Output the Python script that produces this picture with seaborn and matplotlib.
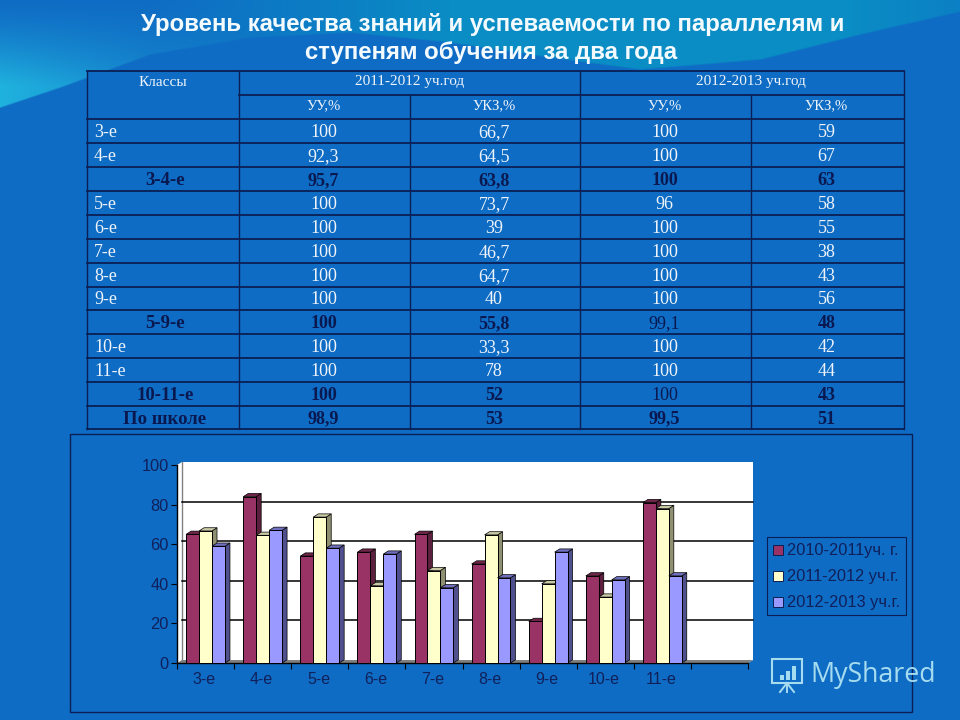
import numpy as np
import pandas as pd
import matplotlib
matplotlib.use("Agg")
import matplotlib.pyplot as plt
from matplotlib.patches import Polygon, Rectangle
import seaborn as sns

# table data
row_names = ['3-е', '4-е', '3-4-е', '5-е', '6-е', '7-е', '8-е', '9-е', '5-9-е', '10-е', '11-е', '10-11-е', 'По школе']
uu_2011 = ['100', '92,3', '95,7', '100', '100', '100', '100', '100', '100', '100', '100', '100', '98,9']
ukz_2011 = ['66,7', '64,5', '63,8', '73,7', '39', '46,7', '64,7', '40', '55,8', '33,3', '78', '52', '53']
uu_2012 = ['100', '100', '100', '96', '100', '100', '100', '100', '99,1', '100', '100', '100', '99,5']
ukz_2012 = ['59', '67', '63', '58', '55', '38', '43', '56', '48', '42', '44', '43', '51']
total_rows = ['3-4-е', '5-9-е', '10-11-е', 'По школе']

# chart data
classes = ['3-е', '4-е', '5-е', '6-е', '7-е', '8-е', '9-е', '10-е', '11-е', ' ']
y_2010 = [65, 84, 54, 56, 65, 50, 21, 44, 81, 0]
y_2011 = [66.7, 64.5, 73.7, 39, 46.7, 64.7, 40, 33.3, 78, 0]
y_2012 = [59, 67, 58, 55, 38, 43, 56, 42, 44, 0]
series_names = ['2010-2011уч. г.', '2011-2012 уч.г.', '2012-2013 уч.г.']
bar_colors = ['#993366', '#ffffcc', '#9999ff']
side_colors = ['#5c1f3d', '#8f8f72', '#50508f']
top_colors = ['#6e2549', '#c9c9a6', '#6f6fc0']

BLUE = '#0f6cc4'
NAVY = '#10205a'
LINE = '#0a1f55'
TEXT = '#eef4fa'
DARK = '#0a1850'

fig = plt.figure(figsize=(9.6, 7.2), dpi=100)

# slide background, pixel coordinates
bg = fig.add_axes([0, 0, 1, 1])
bg.set_xlim(0, 960)
bg.set_ylim(720, 0)
bg.axis('off')

xx, yy = np.meshgrid(np.arange(960), np.arange(720))
base = np.array([15, 108, 196]) / 255
cyan = np.array([32, 178, 222]) / 255
teal = np.array([10, 140, 196]) / 255
arch_x = [0, 60, 150, 250, 350, 450, 550, 640, 760, 860, 960]
arch_y = [108, 88, 55, 38, 33, 43, 58, 70, 60, 35, 12]
arch = np.interp(xx, arch_x, arch_y)
above = np.clip((arch - yy) / 2, 0, 1)
cyan_mix = np.clip(1 - xx / 260, 0, 1) * np.clip(yy / 85, 0, 1) ** 1.3
teal_mix = np.clip((xx - 150) / 300, 0, 1) * np.clip(1 - (xx - 850) / 300, 0.35, 1)
img = np.zeros((720, 960, 3))
for i in range(3):
    top = base[i] * (1 - teal_mix) + teal[i] * teal_mix
    top = top * (1 - cyan_mix) + cyan[i] * cyan_mix
    img[:, :, i] = base[i] * (1 - above) + top * above
bg.imshow(img, extent=(0, 960, 720, 0), aspect='auto', zorder=0)

plt.rcParams['font.family'] = ['Liberation Sans', 'DejaVu Sans']

bg.text(493, 24, 'Уровень качества знаний и успеваемости по параллелям и', ha='center', va='center',
        color='#f4fbff', fontsize=17.3, fontweight='bold', family='Liberation Sans')
bg.text(491, 53, 'ступеням обучения за два года', ha='center', va='center',
        color='#f4fbff', fontsize=17.3, fontweight='bold', family='Liberation Sans')

# table
col_x = [87, 239, 410, 580, 751, 904]
row_y = [71, 95, 119, 143, 167, 191, 215, 239, 263, 287, 310, 334, 358, 382, 406, 429]
bg.add_patch(Rectangle((87, 71), 817, 358, facecolor=BLUE, edgecolor='none', zorder=1))
for y in row_y:
    x0 = 239 if y == 95 else 87
    bg.plot([x0, 904], [y, y], color=LINE, lw=1.3, zorder=2)
for x in col_x:
    y0 = 95 if x in (410, 751) else 71
    bg.plot([x, x], [y0, 429], color=LINE, lw=1.0, zorder=2)

serif = 'Liberation Serif'
bg.text(163, 82, 'Классы', ha='center', va='center', color=TEXT, fontsize=11, family=serif)
bg.text(410, 82, '2011-2012 уч.год', ha='center', va='center', color=TEXT, fontsize=11, family=serif)
bg.text(751, 82, '2012-2013 уч.год', ha='center', va='center', color=TEXT, fontsize=11, family=serif)
for i, label in enumerate(['УУ,%', 'УКЗ,%', 'УУ,%', 'УКЗ,%']):
    bg.text((col_x[i + 1] + col_x[i + 2]) / 2 - 1, 106, label, ha='center', va='center',
            color=TEXT, fontsize=10.5, family=serif)

for r, name in enumerate(row_names):
    yc = (row_y[r + 2] + row_y[r + 3]) / 2 + 1.5
    total = name in total_rows
    color = DARK if total else TEXT
    weight = 'bold' if total else 'normal'
    if total:
        bg.text(165, yc, name, ha='center', va='center', color=color, fontsize=13.5,
                fontweight=weight, family=serif)
    else:
        bg.text(94, yc, name, ha='left', va='center', color=color, fontsize=13, family=serif)
    for c, col in enumerate([uu_2011, ukz_2011, uu_2012, ukz_2012]):
        w = weight
        if name in ('5-9-е', '10-11-е') and c == 2:
            w = 'normal'
        bg.text((col_x[c + 1] + col_x[c + 2]) / 2 - 1, yc, col[r], ha='center', va='center',
                color=color, fontsize=13, fontweight=w, family=serif)

# frame round the chart
bg.add_patch(Rectangle((70, 434), 842, 278, facecolor=BLUE, edgecolor=LINE, lw=1.0, zorder=1))

# back wall of the fake 3D chart
wall = Polygon([(177, 465), (182, 462), (753, 462), (753, 660), (748, 663), (177, 663)],
               facecolor='white', edgecolor='none', zorder=2)
bg.add_patch(wall)
bg.add_patch(Polygon([(177, 663), (182, 660), (753, 660), (748, 663)], facecolor='#808080',
                     edgecolor='none', zorder=3))
bg.plot([182, 182], [462, 660], color='#808080', lw=1, zorder=3)

# bars, axes placed on the front plane
ax = fig.add_axes([177 / 960, 1 - 663 / 720, 571 / 960, 198 / 720])
ax.patch.set_alpha(0)

df = pd.DataFrame({'class': classes * 3,
                   'value': y_2010 + y_2011 + y_2012,
                   'year': sum([[s] * len(classes) for s in series_names], [])})
sns.barplot(data=df, x='class', y='value', hue='year', hue_order=series_names, palette=bar_colors,
            saturation=1, width=0.68, gap=0, order=classes, edgecolor='black', linewidth=0.7,
            legend=False, ax=ax)
ax.set_xlim(-0.5, 9.5)
ax.set_ylim(0, 100)
ax.set_xlabel('')
ax.set_ylabel('')

# depth of the bars and grid, in data units
dx = 5 / 57.1
dy = 3.2 / 1.98

for y in [20, 40, 60, 80]:
    ax.plot([-0.5 + dx, 9.5 + dx], [y + 1.5, y + 1.5], color='black', lw=1.1, zorder=1, clip_on=False)

for s, container in enumerate(ax.containers):
    for k, bar in enumerate(container):
        h = bar.get_height()
        if h <= 0:
            continue
        x0 = bar.get_x()
        x1 = x0 + bar.get_width()
        z = 2 + k * 10 + s * 2
        bar.set_zorder(z + 1)
        ax.add_patch(Polygon([(x1, 0), (x1 + dx, dy), (x1 + dx, h + dy), (x1, h)], facecolor=side_colors[s],
                             edgecolor='black', lw=0.5, zorder=z, clip_on=False))
        ax.add_patch(Polygon([(x0, h), (x0 + dx, h + dy), (x1 + dx, h + dy), (x1, h)], facecolor=top_colors[s],
                             edgecolor='black', lw=0.5, zorder=z, clip_on=False))

ax.set_yticks([0, 20, 40, 60, 80, 100])
ax.set_xticks(np.arange(-0.5, 10, 1), minor=False)
ax.set_xticklabels([''] * 11)
for i, label in enumerate(classes):
    ax.text(i - 0.02, -8.5, label.strip(), ha='center', va='center', color=NAVY, fontsize=11.5)
ax.tick_params(axis='y', colors=NAVY, labelsize=11.8, length=4, width=0.8, color='black', pad=2)
ax.tick_params(axis='x', length=4, width=0.8, color='black')
sns.despine(ax=ax, top=True, right=True)
ax.spines['left'].set_linewidth(1)
ax.spines['bottom'].set_linewidth(1)

# legend box
bg.add_patch(Rectangle((767, 537), 139, 78, facecolor=BLUE, edgecolor=LINE, lw=0.8, zorder=2))
for i, (name, color) in enumerate(zip(series_names, bar_colors)):
    yc = 550 + i * 26
    bg.add_patch(Rectangle((772.5, yc - 5), 10, 10, facecolor=color, edgecolor=LINE, lw=0.7, zorder=3))
    bg.text(787, yc, name, ha='left', va='center', color=NAVY, fontsize=11.8, zorder=3)

# watermark
bg.text(810, 675, 'MyShared', ha='left', va='center', color='#a6dcf0', fontsize=19.3, family='Open Sans', zorder=5)
bg.add_patch(Rectangle((772, 659), 30, 24, facecolor='none', edgecolor='#a6dcf0', lw=1.5, zorder=5))
for x, h in zip([780, 786, 792], [5, 9, 14]):
    bg.add_patch(Rectangle((x, 680 - h), 4, h, facecolor='#a6dcf0', edgecolor='none', zorder=5))
for x1 in [780, 787, 794]:
    bg.plot([787, x1], [683, 692], color='#a6dcf0', lw=1.4, zorder=5)

fig.savefig('out.png', dpi=100)
